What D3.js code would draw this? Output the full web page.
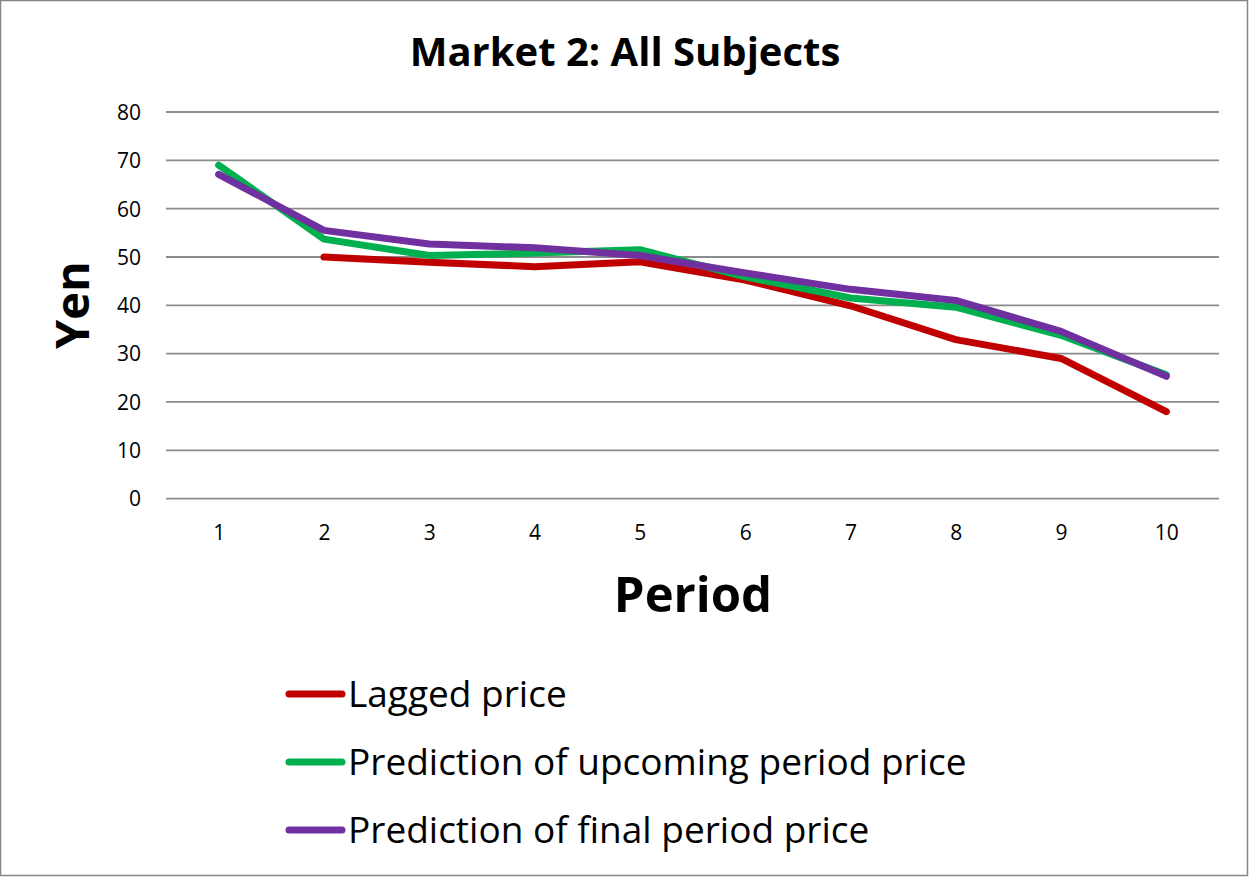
<!DOCTYPE html>
<html><head><meta charset="utf-8">
<script src="https://cdn.jsdelivr.net/npm/d3@7"></script>
<style>body{margin:0;background:#fff;} svg{display:block;}</style>
</head><body><svg id="c" width="1249" height="877"></svg>
<script>
const periods = [1,2,3,4,5,6,7,8,9,10];
const laggedPrice = [null,50.0,48.9,48.0,49.0,45.2,39.9,32.9,29.0,18.0];
const predUpcoming = [69.0,53.7,50.3,50.8,51.5,45.9,41.5,39.6,33.8,25.6];
const predFinal = [67.1,55.5,52.7,51.9,50.3,46.7,43.3,41.0,34.6,25.3];
const yTicks = [0,10,20,30,40,50,60,70,80];
const seriesNames = ["Lagged price","Prediction of upcoming period price","Prediction of final period price"];
const seriesColors = ["#C00000","#00B050","#7030A0"];
const FONT = "'Open Sans', Lato, sans-serif";

const svg = d3.select("#c");
svg.append("rect").attr("x",0.5).attr("y",0.5).attr("width",1247).attr("height",875)
  .attr("fill","#fff").attr("stroke","#868686").attr("stroke-width",1.5);

const L=166, R=1219, T=112, B=498.6;
const x = d3.scalePoint().domain(periods).range([L,R]).padding(0.5);
const y = d3.scaleLinear().domain([0,80]).range([B,T]);

svg.append("g").selectAll("line").data(yTicks).join("line")
  .attr("x1",L).attr("x2",R).attr("y1",d=>y(d)).attr("y2",d=>y(d))
  .attr("stroke","#8c8c8c").attr("stroke-width",1.8);

const yAxis = d3.axisLeft(y).tickValues(yTicks).tickSize(0).tickPadding(0);
const gy = svg.append("g").attr("transform",`translate(${141},0)`).call(yAxis);
gy.select(".domain").remove();
gy.selectAll("text").attr("font-family",FONT).attr("font-size",21).attr("fill","#000").attr("dy","0.35em");

const xAxis = d3.axisBottom(x).tickSize(0).tickPadding(0);
const gx = svg.append("g").attr("transform",`translate(0,${533})`).call(xAxis);
gx.select(".domain").remove();
gx.selectAll("text").attr("font-family",FONT).attr("font-size",21).attr("fill","#000").attr("dy","0.35em");

const allSeries = [laggedPrice,predUpcoming,predFinal];
const line = d3.line().defined(d=>d.v!=null).x(d=>x(d.p)).y(d=>y(d.v));
allSeries.forEach((s,i)=>{
  svg.append("path").datum(periods.map((p,j)=>({p,v:s[j]})))
    .attr("d",line).attr("fill","none").attr("stroke",seriesColors[i])
    .attr("stroke-width",7).attr("stroke-linecap","round").attr("stroke-linejoin","round");
});

svg.append("text").attr("x",625).attr("y",52).attr("dy","0.35em").attr("text-anchor","middle")
  .attr("font-family",FONT).attr("font-weight","bold").attr("font-size",40).text("Market 2: All Subjects");
svg.append("text").attr("x",693).attr("y",595).attr("dy","0.35em").attr("text-anchor","middle")
  .attr("font-family",FONT).attr("font-weight","bold").attr("font-size",49).text("Period");
svg.append("text").attr("transform","translate(73,305) rotate(-90)").attr("dy","0.35em").attr("text-anchor","middle")
  .attr("font-family",FONT).attr("font-weight","bold").attr("font-size",47).text("Yen");

const legY = [694,762,830];
seriesNames.forEach((n,i)=>{
  svg.append("line").attr("x1",289).attr("x2",342).attr("y1",legY[i]).attr("y2",legY[i])
    .attr("stroke",seriesColors[i]).attr("stroke-width",7).attr("stroke-linecap","round");
  svg.append("text").attr("x",348).attr("y",legY[i]).attr("dy","0.35em")
    .attr("font-family",FONT).attr("font-size",37).text(n);
});
</script></body></html>
